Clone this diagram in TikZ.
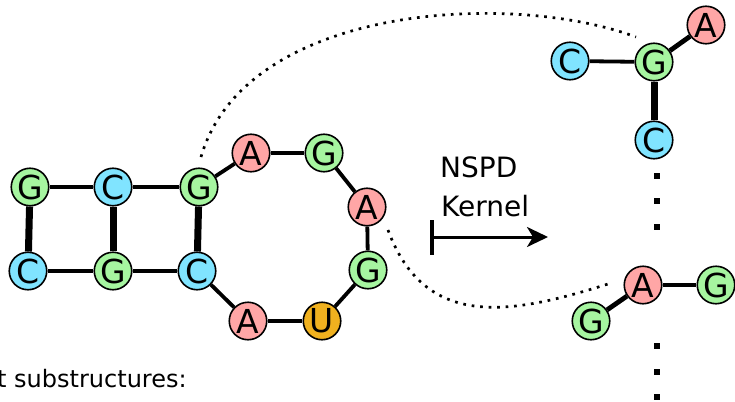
\documentclass[tikz,border=0pt]{standalone}
\usepackage{fontspec}
\setmainfont{DejaVu Sans}
\usetikzlibrary{arrows.meta}

\definecolor{baseG}{RGB}{166,245,160}
\definecolor{baseC}{RGB}{128,228,255}
\definecolor{baseA}{RGB}{255,166,166}
\definecolor{baseU}{RGB}{240,177,31}

\tikzset{
  nt/.style={circle, draw=black, line width=1.6pt, minimum size=37.5pt,
             inner sep=0pt, font=\fontsize{33}{33}\selectfont},
  ntG/.style={nt, fill=baseG},
  ntC/.style={nt, fill=baseC},
  ntA/.style={nt, fill=baseA},
  ntU/.style={nt, fill=baseU},
  bond/.style={line width=3.8pt},
  midbond/.style={line width=4.8pt},
  pair/.style={line width=7pt},
  link/.style={line width=2.7pt, dash pattern=on 2.7pt off 5.8pt},
  vdot/.style={fill=black, minimum size=6pt, inner sep=0pt, rectangle},
  label/.style={font=\fontsize{28}{28}\selectfont, inner sep=0pt, anchor=base west}
}

\begin{document}
\begin{tikzpicture}[x=1pt, y=-1pt]
\useasboundingbox (0,0) rectangle (735,401);

% stem
\node[ntG] (g1) at (30,187) {G};
\node[ntC] (c1) at (113,187) {C};
\node[ntG] (g2) at (199,187) {G};
\node[ntC] (c2) at (28,271) {C};
\node[ntG] (g3) at (113,271) {G};
\node[ntC] (c3) at (197,271) {C};

% loop
\node[ntA] (a1) at (251,153) {A};
\node[ntG] (g4) at (324,153) {G};
\node[ntA] (a2) at (367,207) {A};
\node[ntG] (g5) at (368,270) {G};
\node[ntU] (u1) at (322,321) {U};
\node[ntA] (a3) at (248,321) {A};

\draw[bond] (g1) -- (c1);
\draw[bond] (c1) -- (g2);
\draw[bond] (c2) -- (g3);
\draw[bond] (g3) -- (c3);
\draw[pair] (g1) -- (c2);
\draw[pair] (c1) -- (g3);
\draw[pair] (g2) -- (c3);
\draw[bond] (g2) -- (a1);
\draw[bond] (a1) -- (g4);
\draw[bond] (g4) -- (a2);
\draw[bond] (a2) -- (g5);
\draw[bond] (g5) -- (u1);
\draw[bond] (u1) -- (a3);
\draw[bond] (a3) -- (c3);

% substructure centred on G
\node[ntC] (sc1) at (570,61) {C};
\node[ntG] (sg1) at (654,62) {G};
\node[ntA] (sa1) at (706,25) {A};
\node[ntC] (sc2) at (654,140) {C};
\draw[bond] (sc1) -- (sg1);
\draw[midbond] (sg1) -- (sa1);
\draw[pair] (sg1) -- (sc2);

% substructure centred on A
\node[ntA] (sa2) at (643,285) {A};
\node[ntG] (sg2) at (591,321) {G};
\node[ntG] (sg3) at (716,285) {G};
\draw[bond] (sa2) -- (sg3);
\draw[midbond] (sa2) -- (sg2);

% vertical ellipses
\foreach \y [count=\i] in {176,201,227,346,372,397}
  \node[vdot] (d\i) at (657,\y) {};

% dotted links to the substructures
\coordinate (l1s) at (201,157);
\coordinate (l1e) at (636,37);
\draw[link] (l1s) .. controls (245,5) and (510,-10) .. (l1e);
\coordinate (l2s) at (388,230);
\coordinate (l2e) at (608,284);
\draw[link] (l2s) .. controls (425,330) and (510,315) .. (l2e);

% kernel arrow
\node[label] (nspd) at (440,177) {NSPD};
\node[label] (kern) at (441,216) {Kernel};
\coordinate (ar1) at (430,237);
\coordinate (ar2) at (548,237);
\draw[line width=3pt, {Bar[width=35pt,line width=3.5pt]}-{Stealth[length=21pt,width=20pt,inset=6pt]}] (ar1) -- (ar2);

% caption
\node[font=\fontsize{24}{24}\selectfont, inner sep=0pt, anchor=base west] (cap) at (-3,387) {t substructures:};
\end{tikzpicture}
\end{document}
